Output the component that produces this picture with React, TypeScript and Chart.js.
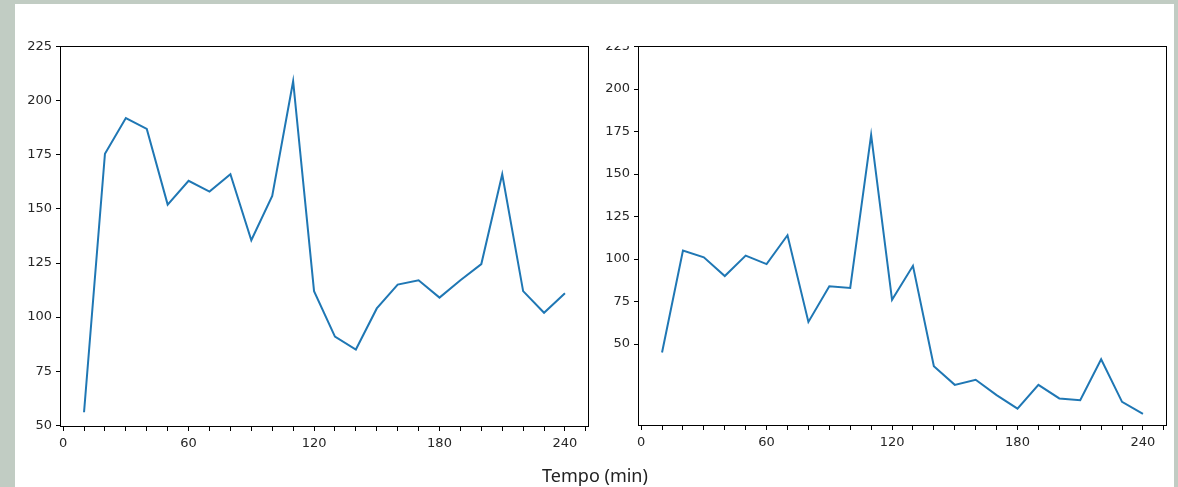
import React, { useEffect, useRef } from "react";
import { Chart, registerables } from "chart.js";

Chart.register(...registerables);

const timeMin = [10, 20, 30, 40, 50, 60, 70, 80, 90, 100, 110, 120, 130, 140, 150, 160, 170, 180, 190, 200, 210, 220, 230, 240];
const seriesLeft = [56, 175.5, 192, 187, 152, 163, 158, 166, 135.5, 156, 209, 112, 91, 85, 104, 115, 117, 109, 117, 124.5, 166, 112, 102, 111];
const seriesRight = [45, 105, 101, 90, 102, 97, 114, 63, 84, 83, 173, 76, 96, 37, 26, 29, 20, 12, 26, 18, 17, 41, 16, 9];
const xTickValues = [0, 10, 20, 30, 40, 50, 60, 70, 80, 90, 100, 110, 120, 130, 140, 150, 160, 170, 180, 190, 200, 210, 220, 230, 240, 250];
const xLabelValues = [0, 60, 120, 180, 240];
const yTickValues = [50, 75, 100, 125, 150, 175, 200, 225];
const xAxisTitle = "Tempo (min)";

const LINE_COLOR = "#1f77b4";
const TEXT_COLOR = "#262626";
const FONT = { family: "'DejaVu Sans', sans-serif", size: 13 };

const boxPlugin = {
  id: "box",
  afterDraw(chart: any) {
    const { ctx, chartArea } = chart;
    const l = Math.round(chartArea.left) + 0.5;
    const t = Math.round(chartArea.top) + 0.5;
    const r = Math.round(chartArea.right) - 0.5;
    const b = Math.round(chartArea.bottom) - 0.5;
    ctx.save();
    ctx.strokeStyle = "#000";
    ctx.lineWidth = 1;
    ctx.strokeRect(l, t, r - l, b - t);
    ctx.restore();
  },
};

function clipTopPlugin() {
  return {
    id: "clipTop",
    afterDraw(chart: any) {
      const { ctx, chartArea } = chart;
      ctx.save();
      ctx.fillStyle = "#fff";
      ctx.fillRect(0, 0, chartArea.left - 6, Math.round(chartArea.top));
      ctx.restore();
    },
  };
}

function makeConfig(values: number[], yMin: number, yMax: number, yWidth: number, xHeight: number, padRight: number, clipTop: boolean): any {
  const plugins: any[] = [boxPlugin];
  if (clipTop) plugins.push(clipTopPlugin());
  return {
    type: "line",
    data: {
      datasets: [
        {
          data: timeMin.map((t, i) => ({ x: t, y: values[i] })),
          borderColor: LINE_COLOR,
          borderWidth: 2,
          pointRadius: 0,
          tension: 0,
          fill: false,
        },
      ],
    },
    options: {
      animation: false,
      responsive: false,
      devicePixelRatio: 1,
      layout: { padding: { top: 42, right: padRight, left: 0, bottom: 0 } },
      plugins: { legend: { display: false }, tooltip: { enabled: false } },
      scales: {
        x: {
          type: "linear",
          min: -1.5,
          max: 251.5,
          afterBuildTicks: (axis: any) => {
            axis.ticks = xTickValues.map((v) => ({ value: v }));
          },
          afterFit: (scale: any) => {
            scale.height = xHeight;
          },
          ticks: {
            autoSkip: false,
            maxRotation: 0,
            minRotation: 0,
            padding: 5,
            color: TEXT_COLOR,
            font: FONT,
            callback: (v: any) => (xLabelValues.includes(Number(v)) ? String(v) : ""),
          },
          grid: { display: true, drawOnChartArea: false, drawTicks: true, tickLength: 4, color: "#000", lineWidth: 1 },
          border: { display: false },
        },
        y: {
          type: "linear",
          min: yMin,
          max: yMax,
          afterBuildTicks: (axis: any) => {
            axis.ticks = yTickValues.map((v) => ({ value: v }));
          },
          afterFit: (scale: any) => {
            scale.width = yWidth;
          },
          ticks: {
            autoSkip: false,
            padding: 4,
            color: TEXT_COLOR,
            font: FONT,
            callback: (v: any) => String(v),
          },
          grid: { display: true, drawOnChartArea: false, drawTicks: true, tickLength: 4, color: "#000", lineWidth: 1 },
          border: { display: false },
        },
      },
    },
    plugins,
  };
}

function LineChart(props: { values: number[]; yMin: number; yMax: number; yWidth: number; xHeight: number; padRight: number; clipTop: boolean; left: number; width: number; height: number }) {
  const ref = useRef<HTMLCanvasElement | null>(null);
  useEffect(() => {
    if (!ref.current) return;
    const chart = new Chart(ref.current, makeConfig(props.values, props.yMin, props.yMax, props.yWidth, props.xHeight, props.padRight, props.clipTop));
    return () => chart.destroy();
  }, []);
  return (
    <canvas
      ref={ref}
      width={props.width}
      height={props.height}
      style={{ position: "absolute", left: props.left, top: 4, width: props.width, height: props.height }}
    />
  );
}

export default function App() {
  useEffect(() => {
    document.body.style.margin = "0";
    document.body.style.background = "#c1ccc3";
  }, []);
  return (
    <div style={{ position: "relative", width: 1178, height: 487, background: "#c1ccc3", overflow: "hidden" }}>
      <div style={{ position: "absolute", left: 15, top: 4, width: 1159, height: 483, background: "#fff" }} />
      <LineChart values={seriesLeft} yMin={49.2} yMax={225.3} yWidth={45} xHeight={37} padRight={6} clipTop={false} left={15} width={580} height={460} />
      <LineChart values={seriesRight} yMin={1.8} yMax={225.3} yWidth={43} xHeight={38} padRight={8} clipTop={true} left={595} width={580} height={460} />
      <div
        style={{
          position: "absolute",
          left: 0,
          width: 1190,
          top: 464,
          textAlign: "center",
          fontFamily: "'Noto Sans', sans-serif",
          fontSize: 18,
          color: "#222",
          lineHeight: "22px",
        }}
      >
        {xAxisTitle}
      </div>
    </div>
  );
}
